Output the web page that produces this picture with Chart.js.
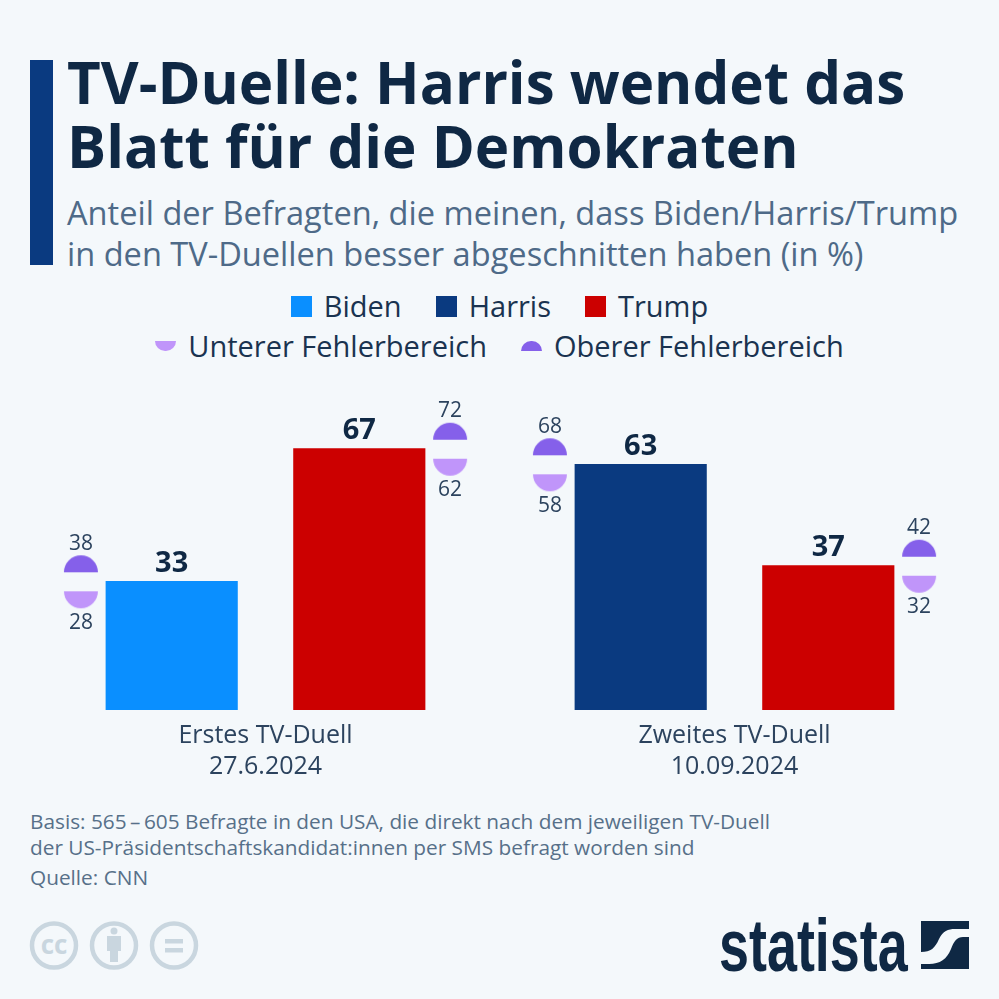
<!DOCTYPE html>
<html lang="de">
<head>
<meta charset="utf-8">
<title>TV-Duelle</title>
<script src="https://cdn.jsdelivr.net/npm/chart.js@4"></script>
<style>
  html, body { margin: 0; padding: 0; background: #f4f8fb; }
  body { width: 999px; height: 999px; position: relative; overflow: hidden; font-family: "Open Sans", "Noto Sans", sans-serif; color: #0f2844; }
  .abs { position: absolute; white-space: nowrap; }
  #accent { left: 30px; top: 60px; width: 23px; height: 205px; background: #0a3a80; }
  #title { left: 67px; top: 50px; font-size: 58.3px; line-height: 64px; font-weight: 700; }
  #subtitle { left: 67px; top: 193px; font-size: 32.6px; line-height: 40.5px; color: #4e6a88; }
  .legendRow { left: 0; width: 999px; display: flex; justify-content: center; align-items: center; font-size: 29px; line-height: 36px; color: #1a3350; }
  .legendItem { display: flex; align-items: center; }
  .swatch { width: 21px; height: 21px; margin-right: 12px; }
  .half { width: 21px; height: 10.5px; margin-right: 12px; }
  #chartWrap { left: 0; top: 390px; width: 999px; height: 400px; }
  #footer { left: 30px; top: 808px; font-size: 20.8px; line-height: 26px; color: #577089; }
  #source { left: 30px; top: 864px; font-size: 20.8px; line-height: 26px; color: #577089; }
  #brand { left: 719px; top: 904.5px; font-family: "Liberation Sans", sans-serif; font-weight: 700; font-size: 70px; line-height: 76px; color: #0f2844; transform-origin: left top; transform: scale(0.77, 1.065); }
</style>
</head>
<body>
<div class="abs" id="accent"></div>
<div class="abs" id="title">TV-Duelle: Harris wendet das<br>Blatt für die Demokraten</div>
<div class="abs" id="subtitle">Anteil der Befragten, die meinen, dass Biden/Harris/Trump<br>in den TV-Duellen besser abgeschnitten haben (in %)</div>
<div class="abs legendRow" id="legendTop" style="top:288px"></div>
<div class="abs legendRow" id="legendBottom" style="top:328px"></div>
<div class="abs" id="chartWrap"><canvas id="duelChart" width="999" height="400"></canvas></div>
<div class="abs" id="footer">Basis: 565&#8201;–&#8201;605 Befragte in den USA, die direkt nach dem jeweiligen TV-Duell<br>der US-Präsidentschaftskandidat:innen per SMS befragt worden sind</div>
<div class="abs" id="source">Quelle: CNN</div>

<svg class="abs" style="left:28px;top:919px" width="175" height="52" viewBox="0 0 175 52">
  <g fill="none" stroke="#c9d6df" stroke-width="4.5">
    <circle cx="26" cy="26.5" r="22"/>
    <circle cx="86" cy="26.5" r="22"/>
    <circle cx="146" cy="26.5" r="22"/>
  </g>
  <text x="26" y="35" text-anchor="middle" font-family="Open Sans" font-weight="700" font-size="26" fill="#c9d6df">cc</text>
  <g fill="#c9d6df">
    <circle cx="86" cy="12" r="3.5"/>
    <rect x="79" y="17" width="14" height="15"/>
    <rect x="82" y="30" width="8" height="13"/>
    <rect x="137" y="20" width="18" height="4.5"/>
    <rect x="137" y="29" width="18" height="4.5"/>
  </g>
</svg>
<div class="abs" id="brand">statista</div>
<svg class="abs" style="left:921px;top:921px" width="48" height="48" viewBox="0 0 48 48">
  <rect width="48" height="48" fill="#0f2844"/>
  <path d="M0 31 C10 31 14 27 18 18 C22 10 27 8 34 8 L48 8 L48 16 L42 16 C36 16 33 20 30 28 C26 38 19 43 8 43 L0 43 Z" fill="#f4f8fb"/>
</svg>

<script>
// ten slots on the axis: marker, bar, label, bar, marker, marker, bar, label, bar, marker
const slotLabels = ['', '', ['Erstes TV-Duell', '27.6.2024'], '', '', '', '', ['Zweites TV-Duell', '10.09.2024'], '', ''];
const bidenValues = [null, 33, null, null, null, null, null, null, null, null];
const harrisValues = [null, null, null, null, null, null, 63, null, null, null];
const trumpValues = [null, null, null, 67, null, null, null, null, 37, null];
const upperError = [38, null, null, null, 72, 68, null, null, null, 42];
const lowerError = [28, null, null, null, 62, 58, null, null, null, 32];
// the markers sit next to the top of their bar, the number says the actual value
const markerAnchor = [33, null, null, null, 67, 63, null, null, null, 37];
const markerShift = [3, 0, 0, 0, -3, 3, 0, 0, 0, -3];

const BLUE = '#0a8fff';
const NAVY = '#0a3a80';
const RED = '#cc0000';
const UPPER = '#8560ea';
const LOWER = '#c095fa';
const INK = '#0f2844';
const SOFT = '#2c435e';
const R = 17;

// half circle drawn off centre in a canvas, so the point can stay on the bar top value
const makeMarker = (color, isUpper, shift) => {
    const c = document.createElement('canvas');
    c.width = 80;
    c.height = 80;
    const g = c.getContext('2d');
    g.fillStyle = color;
    g.beginPath();
    if (isUpper) {
        g.arc(40 + shift, 40 - 9, R, Math.PI, 0);
    } else {
        g.arc(40 + shift, 40 + 10, R, 0, Math.PI);
    }
    g.closePath();
    g.fill();
    return c;
};

const barDataset = (label, values, color) => ({
    label: label,
    data: values,
    backgroundColor: color,
    grouped: false,
    barThickness: 131.5,
    order: 2,
});

const markerDataset = (label, color, isUpper) => ({
    type: 'line',
    label: label,
    data: markerAnchor,
    showLine: false,
    pointRadius: 1,
    pointHoverRadius: 1,
    pointStyle: markerShift.map((s) => makeMarker(color, isUpper, s)),
    order: 1,
    errorValues: isUpper ? upperError : lowerError,
    isUpper: isUpper,
    swatch: color,
});

const valueLabels = {
    id: 'valueLabels',
    afterDatasetsDraw(chart) {
        const ctx = chart.ctx;
        ctx.save();
        ctx.textAlign = 'center';
        ctx.textBaseline = 'middle';
        chart.data.datasets.forEach((ds, di) => {
            chart.getDatasetMeta(di).data.forEach((el, i) => {
                if (ds.data[i] === null) return;
                if (ds.errorValues) {
                    ctx.font = '400 21px "Open Sans"';
                    ctx.fillStyle = SOFT;
                    const dy = ds.isUpper ? -37.5 : 41.5;
                    ctx.fillText(ds.errorValues[i], el.x + markerShift[i], el.y + dy);
                } else {
                    ctx.font = '700 29px "Open Sans"';
                    ctx.fillStyle = INK;
                    ctx.fillText(ds.data[i], el.x, el.y - 18);
                }
            });
        });
        ctx.restore();
    },
};

const duelChart = new Chart(document.getElementById('duelChart'), {
    type: 'bar',
    data: {
        labels: slotLabels,
        datasets: [
            barDataset('Biden', bidenValues, BLUE),
            barDataset('Harris', harrisValues, NAVY),
            barDataset('Trump', trumpValues, RED),
            markerDataset('Unterer Fehlerbereich', LOWER, false),
            markerDataset('Oberer Fehlerbereich', UPPER, true),
        ],
    },
    options: {
        responsive: false,
        animation: false,
        events: [],
        layout: { padding: { left: 31, right: 30, top: 8, bottom: 0 } },
        plugins: { legend: { display: false }, tooltip: { enabled: false } },
        scales: {
            x: {
                grid: { display: false },
                border: { display: false },
                ticks: {
                    autoSkip: false,
                    maxRotation: 0,
                    padding: 2,
                    color: SOFT,
                    font: { family: 'Open Sans', size: 25, lineHeight: 1.24 },
                },
                afterFit: (scale) => { scale.height = 80; },
            },
            y: {
                display: false,
                min: 0,
                max: 80,
            },
        },
    },
    plugins: [valueLabels],
});

// legend in two centred rows, same as the original, built from the datasets
const addLegendItem = (row, ds, marginRight) => {
    const item = document.createElement('div');
    item.className = 'legendItem';
    item.style.marginRight = marginRight + 'px';
    const glyph = document.createElement('span');
    if (ds.type === 'line') {
        glyph.className = 'half';
        glyph.style.background = ds.swatch;
        glyph.style.borderRadius = ds.isUpper ? '11px 11px 0 0' : '0 0 11px 11px';
    } else {
        glyph.className = 'swatch';
        glyph.style.background = ds.backgroundColor;
    }
    item.appendChild(glyph);
    item.appendChild(document.createTextNode(ds.label));
    row.appendChild(item);
};

const sets = duelChart.data.datasets;
const legendTop = document.getElementById('legendTop');
const legendBottom = document.getElementById('legendBottom');
addLegendItem(legendTop, sets[0], 34);
addLegendItem(legendTop, sets[1], 34);
addLegendItem(legendTop, sets[2], 0);
addLegendItem(legendBottom, sets[3], 34);
addLegendItem(legendBottom, sets[4], 0);
</script>
</body>
</html>
